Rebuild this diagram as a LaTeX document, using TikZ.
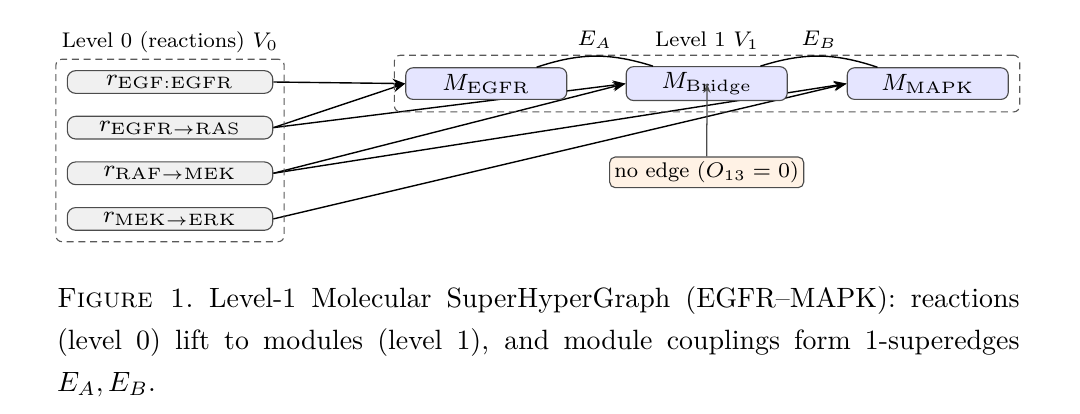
\RequirePackage{fix-cm}
\documentclass[tikz,border=0pt]{standalone}
\usepackage{amsmath}
\usepackage{tikz}
\usetikzlibrary{arrows.meta,fit,backgrounds,calc}

\newcommand{\boxfont}{\fontsize{8.45}{10.1}\selectfont}
\newcommand{\lvlfont}{\fontsize{7.6}{9.1}\selectfont}

\begin{document}
\begin{tikzpicture}[
    reaction/.style={draw=black!70, fill=gray!12, rounded corners=3pt, line width=0.4pt,
        minimum width=2.588cm, minimum height=0.286cm, inner sep=1.5pt, font=\boxfont},
    module/.style={draw=black!70, fill=blue!10, rounded corners=2.6pt, line width=0.4pt,
        minimum width=2.028cm, minimum height=0.398cm, inner xsep=1.5pt, inner ysep=2pt, font=\boxfont},
    note/.style={draw=black!70, fill=orange!10, rounded corners=2pt, line width=0.4pt,
        minimum height=0.378cm, inner sep=1.7pt, font=\lvlfont},
    group/.style={draw=black!65, dash pattern=on 2.5pt off 1.7pt, rounded corners=2.2pt,
        line width=0.4pt, inner sep=3.9pt},
    lvl/.style={font=\lvlfont, inner sep=1.8pt},
    lift/.style={-{Stealth[length=4.6pt,width=3.4pt]}, line width=0.5pt}
]
    \useasboundingbox (0,0) rectangle (13.606,-5.203);

    % level 0: reactions
    \foreach \i/\name in {1/{EGF{:}EGFR},2/{EGFR\to RAS},3/{RAF\to MEK},4/{MEK\to ERK}}
        \node[reaction] (r\i) at (2.142,{-0.458-0.575*\i}) {$r_{\mathrm{\name}}$};

    % level 1: modules
    \node[module] (MEGFR) at (6.126,-1.053) {$M_{\mathrm{EGFR}}$};
    \node[module] (MBridge) at (8.903,-1.053) {$M_{\mathrm{Bridge}}$};
    \node[module] (MMAPK) at (11.688,-1.053) {$M_{\mathrm{MAPK}}$};

    \node[note] (noedge) at (8.903,-2.171) {no edge ($O_{13}=0$)};

    % groups
    \node[group, fit=(r1)(r4), label={[lvl]above:Level 0 (reactions) $V_0$}] (V0) {};
    \node[group, fit=(MEGFR)(MBridge)(MMAPK), label={[lvl]above:Level 1 $V_1$}] (V1) {};

    % lifts, behind the modules
    \begin{scope}[on background layer]
    \foreach \a/\b in {r1/MEGFR,r2/MEGFR,r2/MBridge,r3/MBridge,r3/MMAPK,r4/MMAPK}
        \draw[lift] (\a.east) -- (\b.west);
    \end{scope}

    % superedges
    \draw[line width=0.5pt] (MEGFR) to[bend left=18] node[lvl, above, inner sep=2.5pt]{$E_A$} (MBridge);
    \draw[line width=0.5pt] (MBridge) to[bend left=18] node[lvl, above, inner sep=2.5pt]{$E_B$} (MMAPK);

    % missing coupling
    \coordinate (gap) at ($(MEGFR)!0.5!(MMAPK)$);
    \draw[-{Stealth[length=3.4pt,width=2.6pt]}, color=black!70, line width=0.45pt] (noedge) -- (gap);

    % caption
    \node[anchor=north west, text width=345pt, align=justify, inner sep=0pt,
        font=\fontsize{10}{14.9}\selectfont] (caption) at (0.712,-3.608)
        {\textsc{Figure 1.}\ Level-1 Molecular SuperHyperGraph (EGFR--MAPK): reactions
        (level 0) lift to modules (level 1), and module couplings form 1-superedges
        $E_A, E_B$.};
\end{tikzpicture}
\end{document}
